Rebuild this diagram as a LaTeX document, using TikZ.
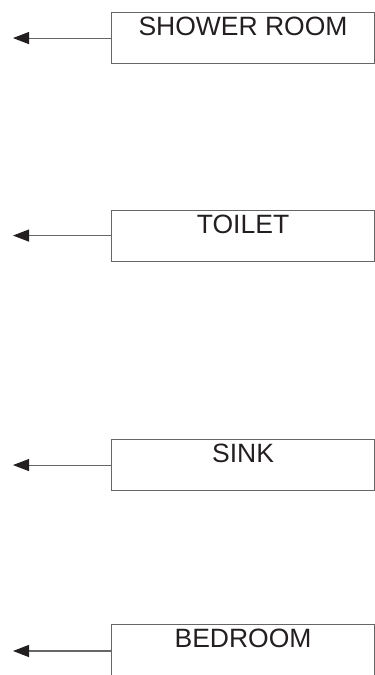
\documentclass[tikz,border=0pt]{standalone}
\usepackage{fontspec}
\setmainfont{Liberation Sans}
\usetikzlibrary{arrows.meta, positioning}
\definecolor{lineGray}{HTML}{666666}
\definecolor{tipDark}{HTML}{231F20}
\definecolor{labelTxt}{HTML}{231F20}
\tikzset{
  room/.style={
    rectangle, anchor=north west,
    minimum width=263pt, inner sep=0pt,
    text height=23pt, text depth=28pt,
    draw=lineGray, line width=1.1pt,
    font=\fontsize{26.5}{30}\selectfont, text=labelTxt
  },
  pointer/.style={-{Triangle[length=16pt,width=12pt,color=tipDark,fill=tipDark]},
    draw=lineGray, line width=1.1pt},
}

\begin{document}
\begin{tikzpicture}[x=1pt,y=1pt]
  \useasboundingbox (0,0) rectangle (375,-675);
  \node[room] (shower) at (111,-12) {SHOWER ROOM};
  \node[room] (toilet) at (111,-209.5) {TOILET};
  \node[room] (sink) at (111,-439) {SINK};
  \node[room, text depth=40pt] (bedroom) at (111,-624) {BEDROOM};

  \coordinate[left=98pt of shower.west] (showerEnd);
  \coordinate[left=98pt of toilet.west] (toiletEnd);
  \coordinate[left=98pt of sink.west] (sinkEnd);
  \coordinate (bedroomEnd) at (13,-651);

  \draw[pointer] (shower.west) -- (showerEnd);
  \draw[pointer] (toilet.west) -- (toiletEnd);
  \draw[pointer] (sink.west) -- (sinkEnd);
  \draw[pointer] (bedroom.west |- bedroomEnd) -- (bedroomEnd);
\end{tikzpicture}
\end{document}
